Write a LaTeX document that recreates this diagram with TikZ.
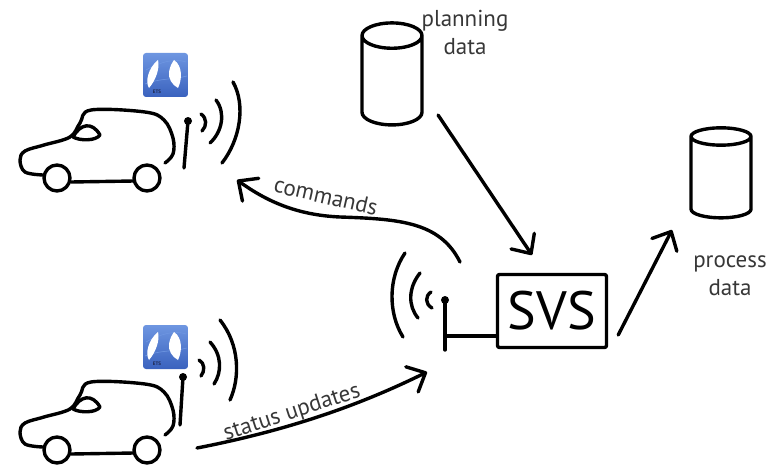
\documentclass[tikz,border=0pt]{standalone}
\usepackage{fontspec}
\setmainfont{PT Sans}
\usetikzlibrary{arrows.meta,shapes.geometric,positioning}

\definecolor{etsblue}{RGB}{58,98,190}
\definecolor{etslight}{RGB}{110,150,225}
\definecolor{etsdark}{RGB}{30,40,80}
\definecolor{ink}{RGB}{55,55,55}

\tikzset{
  sketch/.style={line width=3.4pt, line cap=round, line join=round},
  barb/.style={-{Straight Barb[length=15pt,width=28pt,round]}},
  db/.style={cylinder, shape border rotate=90, draw, sketch, minimum width=60pt},
  lbl/.style={text=ink, font=\fontsize{23}{28}\selectfont, align=center},
}

\begin{document}
\begin{tikzpicture}[x=1pt,y=-1pt]
  \useasboundingbox (0,0) rectangle (770,468);

  % two cars with their ETS badge
  \foreach \dy in {0,272} {
    \begin{scope}[shift={(0,\dy)}]
      \draw[sketch] plot[smooth, tension=.6] coordinates {(165,163) (173,154) (173,138)
        (164,120) (145,112) (91,110) (80,123) (70,137) (44,145) (25,151) (20,160)
        (25,172) (43,175)};
      \draw[sketch] (73,137) .. controls (80,124) and (92,121) .. (100,135)
        .. controls (96,141) and (80,141) .. cycle;
      \draw[sketch] (57,178) circle (13) (147,178) circle (13);
      \draw[sketch] (71,182) -- (134,181);
      % badge
      \shade[top color=etslight, bottom color=etsblue, rounded corners=3pt]
        (143,53) rectangle (188,97);
      \draw[etslight, line width=.6pt] (146,70) .. controls (160,62) and (175,58) .. (186,62)
        (145,84) .. controls (160,78) and (172,80) .. (187,76);
      \fill[white] (158,60) .. controls (160,68) and (156,80) .. (149,88)
        .. controls (145,82) and (148,68) .. cycle;
      \fill[white] (174,60) .. controls (183,66) and (182,80) .. (178,88)
        .. controls (172,85) and (168,78) .. (169,72) .. controls (170,66) and (172,63) .. cycle;
      \node[text=etsdark, font=\fontsize{5}{5}\selectfont\bfseries, inner sep=0pt]
        (ets\dy) at (157,92) {ETS};
    \end{scope}
  }

  % antennas on the cars
  \coordinate (ant1) at (188,121);
  \coordinate (ant2) at (183,377);
  \draw[sketch] (184,168) -- (ant1);
  \draw[sketch] (180,425) -- (ant2);
  \fill (ant1) circle (4) (ant2) circle (4);
  \draw[sketch] (201,114) .. controls (207,118) and (207,126) .. (202,131);
  \draw[sketch] (216,100) .. controls (226,113) and (222,132) .. (210,143);
  \draw[sketch] (233,82) .. controls (246,105) and (240,140) .. (222,163);
  \draw[sketch] (199,360) .. controls (205,363) and (205,371) .. (201,376);
  \draw[sketch] (210,342) .. controls (222,355) and (222,372) .. (214,384);
  \draw[sketch] (220,320) .. controls (240,345) and (240,378) .. (230,400);

  % SVS with its own antenna
  \node[draw, sketch, rounded corners=2pt, minimum width=109pt, minimum height=73pt,
    font=\fontsize{54}{54}\selectfont] (svs) at (552,311) {SVS};
  \coordinate (mast) at (445,300);
  \coordinate (mastfoot) at (445,336);
  \draw[sketch] (445,350) -- (mast);
  \fill (mast) circle (4);
  \draw[sketch] (mastfoot) -- (mastfoot -| svs.west);
  \draw[sketch] (431,292) .. controls (425,296) and (425,304) .. (432,308);
  \draw[sketch] (420,273) .. controls (408,288) and (408,306) .. (418,318);
  \draw[sketch] (405,253) .. controls (388,278) and (388,313) .. (403,337);

  % databases
  \node[db, minimum height=102pt, aspect=3.8] (planning) at (392,84) {};
  \node[db, minimum height=90pt, aspect=2.6] (process) at (721,180) {};
  \node[lbl] (planlbl) at (465,32) {planning\\data};
  \node[lbl] (proclbl) at (730,276) {process\\data};

  % messages
  \coordinate (cmdfrom) at (460,262);
  \coordinate (cmdto) at (237,180);
  \coordinate (stfrom) at (197,448);
  \coordinate (stto) at (427,372);
  \draw[sketch, barb] (cmdfrom) .. controls (440,222) and (400,219) .. (340,217)
    .. controls (295,215) and (265,200) .. (cmdto);
  \draw[sketch, barb] (stfrom) .. controls (300,428) and (370,400) .. (stto);
  \node[lbl, rotate=-13] (cmdlbl) at (326,196) {commands};
  \node[lbl, rotate=18] (stlbl) at (292,413) {status updates};

  \coordinate (planto) at (532,255);
  \coordinate (procto) at (672,230);
  \draw[sketch, barb] ([xshift=15pt]planning.south east) -- (planto);
  \draw[sketch, barb] ([shift={(10pt,-24pt)}]svs.east) -- (procto);
\end{tikzpicture}
\end{document}
